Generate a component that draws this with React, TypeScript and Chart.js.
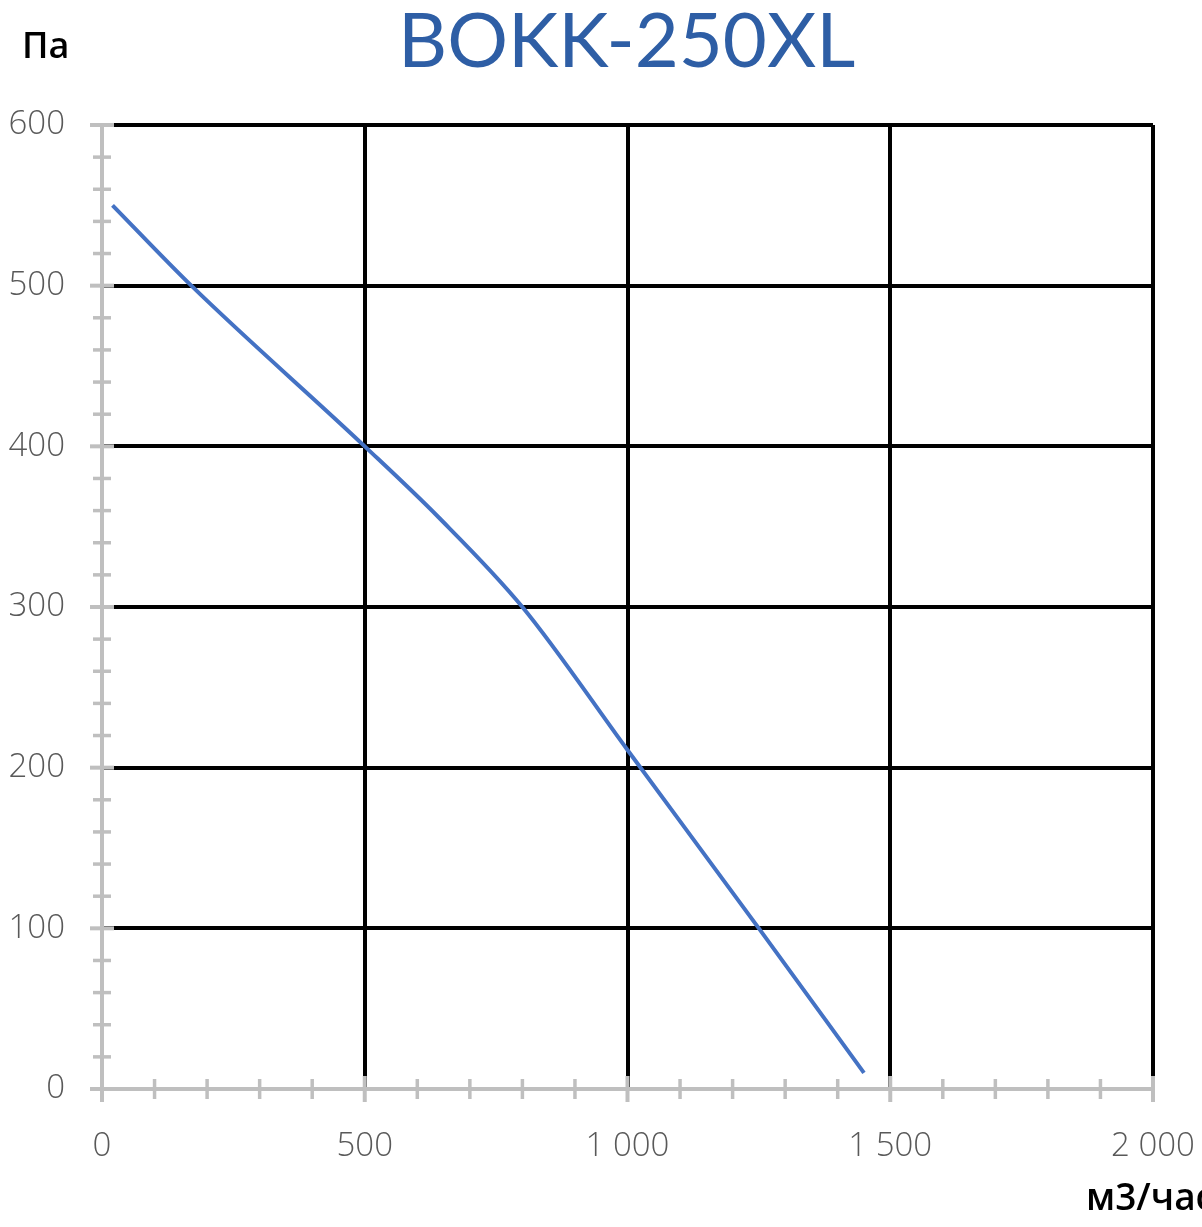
import React, { useEffect, useRef } from "react";
import { Chart, registerables } from "chart.js";

Chart.register(...registerables);

const FLOW = [20, 170, 500, 640, 800, 1000, 1250, 1450];
const PRESSURE = [550, 500, 400, 356, 300, 211, 100, 10];
const X_TICK_VALUES = [0, 500, 1000, 1500, 2000];
const X_TICK_LABELS = ["0", "500", "1 000", "1 500", "2 000"];
const Y_TICK_VALUES = [0, 100, 200, 300, 400, 500, 600];
const Y_TICK_LABELS = ["0", "100", "200", "300", "400", "500", "600"];

const GRAY = "#BFBFBF";
const LABEL_GRAY = "#595959";

const axisPlugin = {
  id: "excelAxes",
  afterDraw(chart: any) {
    const { ctx, scales } = chart;
    const x = scales.x;
    const y = scales.y;
    const x0 = x.getPixelForValue(0);
    const y0 = y.getPixelForValue(0);
    const line = (a: number, b: number, c: number, d: number) => {
      ctx.beginPath();
      ctx.moveTo(a, b);
      ctx.lineTo(c, d);
      ctx.stroke();
    };
    ctx.save();
    ctx.strokeStyle = GRAY;
    ctx.lineWidth = 4;
    line(x0, y.getPixelForValue(600), x0, y0);
    line(x0, y0, x.getPixelForValue(2000), y0);
    x.ticks.forEach((t: any) => {
      const px = x.getPixelForValue(t.value);
      const major = X_TICK_VALUES.includes(t.value);
      ctx.lineWidth = major ? 4 : 3.5;
      const h = major ? 13 : 10;
      line(px, y0 - h, px, y0 + h);
    });
    y.ticks.forEach((t: any) => {
      const py = y.getPixelForValue(t.value);
      const major = Y_TICK_VALUES.includes(t.value);
      ctx.lineWidth = major ? 4 : 3.5;
      const w = major ? 12 : 9;
      line(x0 - w, py, x0 + w, py);
    });
    ctx.restore();
  },
};

export default function App() {
  const canvasRef = useRef<HTMLCanvasElement | null>(null);

  useEffect(() => {
    if (!canvasRef.current) return;
    const points = FLOW.map((f, i) => ({ x: f, y: PRESSURE[i] }));
    const chart = new Chart(canvasRef.current, {
      type: "scatter",
      data: {
        datasets: [
          {
            data: points,
            showLine: true,
            borderColor: "#4472C4",
            borderWidth: 4,
            pointRadius: 0,
            cubicInterpolationMode: "monotone",
            fill: false,
          },
        ],
      },
      options: {
        animation: false,
        responsive: false,
        maintainAspectRatio: false,
        devicePixelRatio: 1,
        layout: { padding: { top: 125, right: 49, left: 0, bottom: 0 } },
        plugins: {
          legend: { display: false },
          tooltip: { enabled: false },
          title: { display: false },
        },
        scales: {
          x: {
            type: "linear",
            min: 0,
            max: 2000,
            afterFit: (s: any) => {
              s.height = 138;
              s.paddingRight = 0;
              s.paddingLeft = 0;
            },
            border: { display: false },
            grid: {
              drawTicks: false,
              lineWidth: 4,
              color: (c: any) =>
                c.tick && c.tick.value !== 0 && X_TICK_VALUES.includes(c.tick.value)
                  ? "#000000"
                  : "rgba(0,0,0,0)",
            },
            ticks: {
              stepSize: 100,
              autoSkip: false,
              maxRotation: 0,
              padding: 38,
              color: LABEL_GRAY,
              font: { family: "'Open Sans'", size: 33, weight: "300" as any },
              callback: (v: any) => {
                const i = X_TICK_VALUES.indexOf(Number(v));
                return i >= 0 ? X_TICK_LABELS[i] : "";
              },
            },
          },
          y: {
            type: "linear",
            min: 0,
            max: 600,
            afterFit: (s: any) => {
              s.width = 102;
              s.paddingTop = 0;
              s.paddingBottom = 0;
            },
            border: { display: false },
            grid: {
              drawTicks: false,
              lineWidth: 4,
              color: (c: any) =>
                c.tick && c.tick.value !== 0 && Y_TICK_VALUES.includes(c.tick.value)
                  ? "#000000"
                  : "rgba(0,0,0,0)",
            },
            ticks: {
              stepSize: 20,
              autoSkip: false,
              padding: 37,
              color: LABEL_GRAY,
              font: { family: "'Open Sans'", size: 33, weight: "300" as any },
              callback: (v: any) => {
                const i = Y_TICK_VALUES.indexOf(Number(v));
                return i >= 0 ? Y_TICK_LABELS[i] : "";
              },
            },
          },
        },
      },
      plugins: [axisPlugin],
    });
    return () => chart.destroy();
  }, []);

  return (
    <div
      style={{
        position: "fixed",
        left: 0,
        top: 0,
        width: 1202,
        height: 1227,
        overflow: "hidden",
        background: "#ffffff",
      }}
    >
      <canvas
        ref={canvasRef}
        width={1202}
        height={1227}
        style={{ position: "absolute", left: 0, top: 0, width: 1202, height: 1227 }}
      />
      <div
        style={{
          position: "absolute",
          left: 398,
          top: -7,
          fontFamily: "Lato, sans-serif",
          fontSize: 76,
          lineHeight: "90px",
          color: "#2E5EA5",
          whiteSpace: "nowrap",
        }}
      >
        BOKK-250XL
      </div>
      <div
        style={{
          position: "absolute",
          left: 22,
          top: 20,
          fontFamily: "'Open Sans', sans-serif",
          fontWeight: 600,
          fontSize: 36,
          lineHeight: "50px",
          color: "#000000",
          whiteSpace: "nowrap",
        }}
      >
        Па
      </div>
      <div
        style={{
          position: "absolute",
          left: 1086,
          top: 1171,
          fontFamily: "'Open Sans', sans-serif",
          fontWeight: 600,
          fontSize: 37,
          lineHeight: "50px",
          color: "#000000",
          whiteSpace: "nowrap",
        }}
      >
        м3/час
      </div>
    </div>
  );
}
